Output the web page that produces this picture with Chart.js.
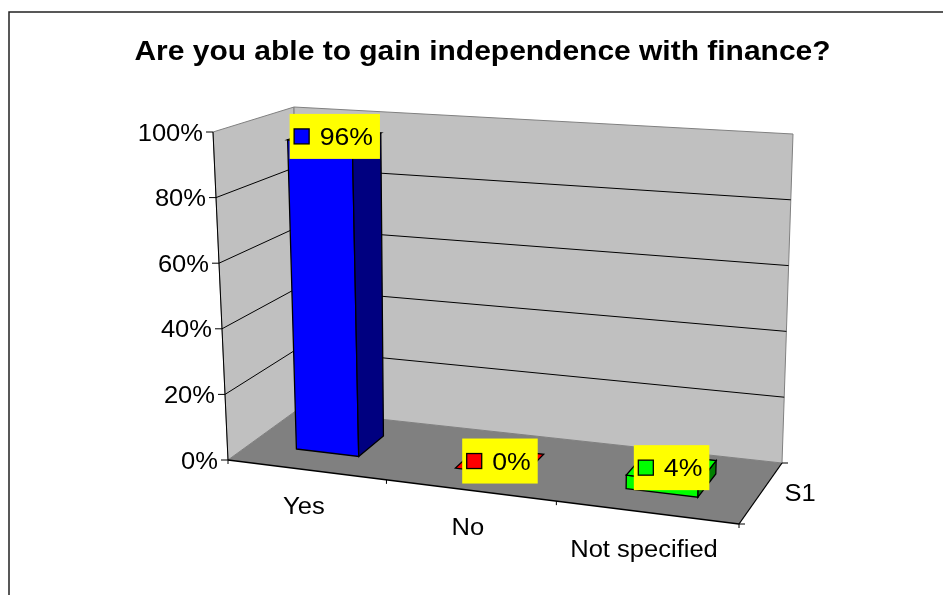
<!DOCTYPE html>
<html>
<head>
<meta charset="utf-8">
<title>Independence with finance</title>
<script src="https://cdn.jsdelivr.net/npm/chart.js@4.4.1/dist/chart.umd.min.js"></script>
<style>
  html, body { margin: 0; padding: 0; background: #fff; }
  #wrap { width: 943px; height: 595px; position: relative; }
</style>
</head>
<body>
<div id="wrap"><canvas id="chart"></canvas></div>
<script>
// chart data
const chartTitle = 'Are you able to gain independence with finance?';
const categories = ['Yes', 'No', 'Not specified'];
const shares = [96, 0, 4];
const seriesName = 'S1';
const valueMax = 100;
const valueStep = 20;
const frontColors = ['#0000FF', '#FF0000', '#00FF00'];
const sideColors = ['#000080', '#800000', '#008000'];

// 3D box used to fake the Excel-style perspective (floor and top planes)
const FLOOR = { fl: [228, 460], fr: [739, 524], br: [782, 463], bl: [297, 410] };
const CEIL = { fl: [213, 132], fr: [748, 170], br: [793, 134], bl: [294, 107] };
const U_BEND = -0.101;      // foreshortening along the category axis
const BAR_FRONT = 0.33;     // depth of bar front face (0 = front, 1 = back)
const BAR_BACK = 0.72;
const SX = 1.11;            // text is drawn slightly wide
const FONT = '"Liberation Sans", Arial, sans-serif';

function lerp(a, b, t) {
    return [a[0] + (b[0] - a[0]) * t, a[1] + (b[1] - a[1]) * t];
}

function bilerp(q, u, w) {
    return lerp(lerp(q.fl, q.fr, u), lerp(q.bl, q.br, u), w);
}

// u: along categories, v: value (0..1), w: depth
function project(u, v, w) {
    const uu = (1 + U_BEND) * u / (1 + U_BEND * u);
    return lerp(bilerp(FLOOR, uu, w), bilerp(CEIL, uu, w), v);
}

function poly(ctx, pts, fill, stroke, lw) {
    ctx.beginPath();
    pts.forEach((p, i) => i ? ctx.lineTo(p[0], p[1]) : ctx.moveTo(p[0], p[1]));
    ctx.closePath();
    if (fill) { ctx.fillStyle = fill; ctx.fill(); }
    if (stroke) { ctx.strokeStyle = stroke; ctx.lineWidth = lw || 1; ctx.stroke(); }
}

function line(ctx, a, b, color, lw) {
    ctx.beginPath();
    ctx.moveTo(a[0], a[1]);
    ctx.lineTo(b[0], b[1]);
    ctx.strokeStyle = color;
    ctx.lineWidth = lw || 1;
    ctx.stroke();
}

function wideText(ctx, text, x, y, align, font) {
    ctx.save();
    ctx.font = font;
    ctx.fillStyle = '#000';
    ctx.textBaseline = 'alphabetic';
    ctx.translate(x, y);
    ctx.scale(SX, 1);
    ctx.textAlign = align;
    ctx.fillText(text, 0, 0);
    ctx.restore();
}

// draws walls, axes, bars and labels in perspective
const perspectiveBars = {
    id: 'perspectiveBars',
    beforeDatasetsDraw(chart) {
        const ctx = chart.ctx;
        const xs = chart.scales.x;
        const ys = chart.scales.y;
        const toU = px => (px - xs.left) / xs.width;
        const toV = py => (ys.bottom - py) / ys.height;

        ctx.save();

        // outer frame
        ctx.strokeStyle = '#222';
        ctx.lineWidth = 1.5;
        ctx.strokeRect(9, 12, 960, 620);

        // title
        wideText(ctx, chartTitle, 482.5, 60, 'center', 'bold 27px ' + FONT);

        // side wall, back wall, floor
        poly(ctx, [project(0, 0, 0), project(0, 0, 1), project(0, 1, 1), project(0, 1, 0)], '#C0C0C0', '#808080');
        poly(ctx, [project(0, 0, 1), project(1, 0, 1), project(1, 1, 1), project(0, 1, 1)], '#C0C0C0', '#808080');
        poly(ctx, [project(0, 0, 0), project(1, 0, 0), project(1, 0, 1), project(0, 0, 1)], '#808080', null);

        // gridlines and value axis
        const tickFont = '23px ' + FONT;
        ys.ticks.forEach(t => {
            const v = toV(ys.getPixelForValue(t.value));
            const a = project(0, v, 0);
            if (v > 0.001 && v < 0.999) {
                line(ctx, a, project(0, v, 1), '#000', 1);
                line(ctx, project(0, v, 1), project(1, v, 1), '#000', 1);
            }
            line(ctx, [a[0] - 7, a[1]], a, '#000', 1);
            wideText(ctx, t.value + '%', a[0] - 10, a[1] + 8.5, 'right', tickFont);
        });
        line(ctx, project(0, 0, 0), project(0, 1, 0), '#000', 1);

        // category axis along the front edge of the floor
        line(ctx, project(0, 0, 0), project(1, 0, 0), '#000', 1.3);
        for (let i = 0; i <= categories.length; i++) {
            const p = project(i / categories.length, 0, 0);
            line(ctx, p, [p[0], p[1] + 4], '#000', 1);
        }
        categories.forEach((name, i) => {
            const p = project(toU(xs.getPixelForValue(i)), 0, 0);
            wideText(ctx, name, p[0] - 2, p[1] + 44.5, 'center', tickFont);
        });

        // series (depth) axis on the right edge of the floor
        line(ctx, project(1, 0, 0), project(1, 0, 1), '#000', 1.3);
        [0, 1].forEach(w => {
            const p = project(1, 0, w);
            line(ctx, p, [p[0] + 6, p[1]], '#000', 1);
        });
        const mid = project(1, 0, 0.5);
        wideText(ctx, seriesName, mid[0] + 24, mid[1] + 7, 'left', tickFont);

        // bars
        const meta = chart.getDatasetMeta(0);
        const boxes = [];
        meta.data.forEach((bar, i) => {
            const { x, y, base, width } = bar.getProps(['x', 'y', 'base', 'width'], true);
            const u0 = toU(x - width / 2), u1 = toU(x + width / 2);
            const v0 = toV(base), v1 = toV(y);
            const f = BAR_FRONT, b = BAR_BACK;
            if (v1 - v0 > 0.001) {
                poly(ctx, [project(u0, v0, f), project(u1, v0, f), project(u1, v1, f), project(u0, v1, f)], frontColors[i], '#000', 1.3);
                poly(ctx, [project(u1, v0, f), project(u1, v0, b), project(u1, v1, b), project(u1, v1, f)], sideColors[i], '#000', 1.3);
            }
            poly(ctx, [project(u0, v1, f), project(u1, v1, f), project(u1, v1, b), project(u0, v1, b)], frontColors[i], '#000', 1.3);
            boxes.push({ p: project(toU(x), v1, (f + b) / 2 + 0.005), i });
        });

        // data labels: yellow box with legend key
        const labelFont = '24px ' + FONT;
        boxes.forEach(({ p, i }) => {
            const text = shares[i] + '%';
            ctx.font = labelFont;
            const tw = ctx.measureText(text).width * SX;
            const w = 30 + tw + 7, h = 45;
            const left = p[0] - w / 2, top = p[1] - h / 2;
            ctx.fillStyle = '#FFFF00';
            ctx.fillRect(left, top, w, h);
            ctx.fillStyle = frontColors[i];
            ctx.fillRect(left + 4.5, p[1] - 7.5, 15, 15);
            ctx.strokeStyle = '#000';
            ctx.lineWidth = 1.3;
            ctx.strokeRect(left + 4.5, p[1] - 7.5, 15, 15);
            wideText(ctx, text, left + 30, p[1] + 8.6, 'left', labelFont);
        });

        ctx.restore();
        return false;
    }
};

new Chart(document.getElementById('chart'), {
    type: 'bar',
    data: {
        labels: categories,
        datasets: [{
            label: seriesName,
            data: shares,
            backgroundColor: frontColors,
            barPercentage: 0.4,
            categoryPercentage: 1
        }]
    },
    options: {
        responsive: true,
        maintainAspectRatio: false,
        animation: false,
        events: [],
        layout: { padding: { left: 220, right: 160, top: 130, bottom: 130 } },
        plugins: {
            legend: { display: false },
            title: { display: false },
            tooltip: { enabled: false }
        },
        scales: {
            x: { display: false, offset: true },
            y: {
                display: false,
                min: 0,
                max: valueMax,
                ticks: { stepSize: valueStep }
            }
        }
    },
    plugins: [perspectiveBars]
});
</script>
</body>
</html>
